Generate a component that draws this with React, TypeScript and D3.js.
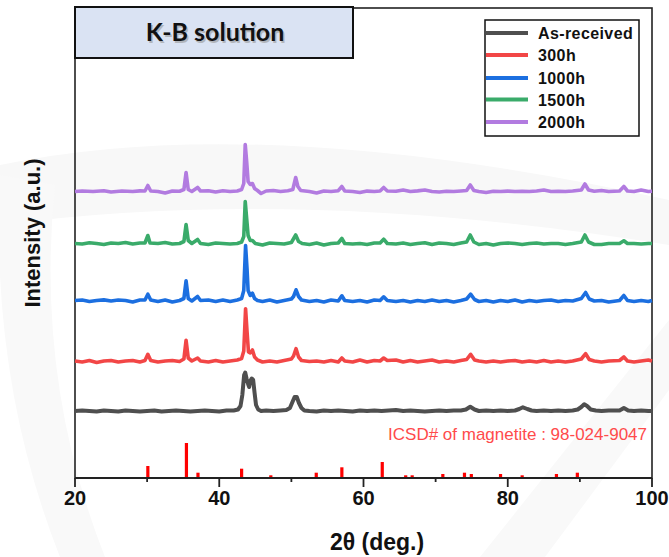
import React from "react";
import * as d3 from "d3";

const W = 669;
const H = 557;

const xTicksMajor = [20, 40, 60, 80, 100];
const xTicksMinor = [30, 50, 70, 90];

const seriesNames = ["As-received", "300h", "1000h", "1500h", "2000h"];
const seriesColors = ["#4f4f4f", "#f24646", "#1c6fe0", "#3aab6a", "#b27be0"];
const seriesOffsets = [67, 117, 177.5, 234.5, 286.5];

const asReceived: [number, number][] = [
  [20, 0], [21, 0.5], [22, 0], [23, -0.5], [24, 0.5], [25, 0], [26, -0.5], [27, 0.5], [28, 0], [29, -0.5],
  [30, 0], [31, 0.5], [32, -0.5], [33, 0], [34, 0.5], [35, 0], [36, -0.5], [37, 0], [38, 0.5], [39, 0],
  [40, -0.5], [41, 0.5], [42, 0.5], [42.6, 1.5], [42.95, 5], [43.2, 16], [43.45, 36], [43.6, 38.5],
  [43.8, 32], [44.0, 27], [44.15, 24], [44.3, 30], [44.5, 32.5], [44.7, 31], [44.9, 18], [45.1, 6],
  [45.4, 1.5], [45.8, 0], [46.5, 0.5], [47.5, 0], [48.5, 0.5], [49.3, 1], [49.8, 3], [50.15, 9],
  [50.45, 14], [50.75, 14], [51.05, 8], [51.4, 3], [51.8, 0.5], [52.5, 0], [53.5, -0.5], [54.5, 0.5],
  [55.5, 0], [56.5, 0.5], [57.5, 0], [58.5, -0.5], [59.5, 0.5], [60.5, 0], [61.5, 0.5], [62.5, 0],
  [63.5, 0.5], [64.5, 1], [65.5, 0], [66.5, 0.5], [67.5, 0], [68.5, -0.5], [69.5, 0], [70.5, 0.5],
  [71.5, 0], [72.5, 0.5], [73.5, 0.5], [74.2, 1.5], [74.8, 4.3], [75.4, 1.5], [76, 0], [77, 0.5],
  [78, 0], [79, 0.5], [80, 0], [81, 0.5], [81.6, 2], [82.1, 3.7], [82.7, 2], [83.3, 0.5], [84, 0],
  [85, 0.5], [86, 0], [87, 0.5], [88, 0], [89, 0.5], [89.7, 1.5], [90.2, 4], [90.6, 6.7], [91.0, 5],
  [91.5, 1.5], [92.2, 0.5], [93, 0], [94, 0.5], [95.5, 0.5], [96.1, 3], [96.7, 0.5], [97.5, 0],
  [98.5, 0.5], [99.5, 0], [100, 0],
];

const h300: [number, number][] = [
  [20, 0], [21, -1], [22, 0.5], [23, -1.5], [24, 0], [25, 0.5], [26, -1], [27, 0], [28, 0.5], [29, -1],
  [29.7, 0.5], [30.1, 6.7], [30.5, 0.5], [31.5, -1], [32.5, 0], [33.5, 0.5], [34.5, -0.5], [35.1, 2],
  [35.4, 20.7], [35.7, 3], [36.2, 0], [37, 3], [37.4, 0], [38.5, -1], [39.5, 0.5], [40.5, -1], [41.5, 0],
  [42.5, 1], [43.1, 2.5], [43.4, 10], [43.65, 52.3], [43.85, 30], [44.05, 9], [44.3, 8], [44.6, 11],
  [44.9, 4], [45.3, 1], [46, -1], [47, 0], [48, -1], [49, 0.5], [50, 2], [50.3, 5], [50.65, 12.3],
  [51, 4], [51.4, 0.5], [52.5, -0.5], [53.5, 0], [54.5, -1], [55.5, 0.5], [56.5, -1], [57, 3], [57.4, 0],
  [58.5, -1], [59.5, 1], [60.5, -1], [61.5, 0.5], [62.3, 0], [62.8, 3], [63.3, 0.5], [64.5, 1],
  [65.5, -1], [66.5, 0.5], [67.5, -1], [68.5, 0], [69.5, 1], [70.5, -1], [71.5, 0], [72.5, -1],
  [73.5, 0.5], [74.3, 1.5], [74.85, 6.7], [75.4, 1], [76, 0], [77, -1], [78, 0], [79, -1], [80, 0],
  [81, 0.5], [82, -1], [83, 0], [84, -1], [85, 0.5], [86, -1], [87, 0], [88, -1], [89, 0], [90.2, 2],
  [90.8, 7.3], [91.3, 1.5], [92, 0], [93, -1], [94, 0], [95.5, 0.5], [96.1, 4], [96.6, 0], [97.5, -1],
  [98.5, 0], [99.5, 1], [100, 0],
];

const h1000: [number, number][] = [
  [20, 0], [21, 0.5], [22, -1], [23, 0], [24, 0.6], [25, -0.5], [26, 0.5], [27, 0], [28, -1.5], [29, 0.5],
  [29.7, 0.5], [30.1, 6.3], [30.5, 0.5], [31.5, -1], [32.5, 0.5], [33.5, -1.5], [34.5, 0], [35.1, 2],
  [35.4, 19.7], [35.7, 2], [36.2, -0.5], [37, 4], [37.4, 0], [38.5, 0.5], [39.5, -1], [40.5, 0.5],
  [41.5, -1], [42.5, 0.5], [43.1, 2], [43.4, 10], [43.65, 55], [43.85, 32], [44.0, 10], [44.3, 5],
  [44.6, 7.3], [44.9, 2], [45.3, 0], [46, -1], [47, 0.5], [48, -1.5], [49, 0], [50, 1.5], [50.3, 4],
  [50.65, 10.7], [51, 4], [51.4, 0.5], [52.5, -1], [53.5, 0], [54.5, -1.5], [55.5, 0.5], [56.5, -0.5],
  [57, 4.7], [57.4, 0], [58.5, -1], [59.5, 0], [60.5, -1.5], [61.5, 0.5], [62.3, 0], [62.8, 3.7],
  [63.3, 0], [64.5, -1], [65.5, 0], [66.5, -1.5], [67.5, 0], [68.5, -1], [69.5, 0.5], [70.5, -1],
  [71.5, 0], [72.5, -1.5], [73.5, 0], [74.3, 1.5], [74.85, 6.3], [75.4, 1], [76, -1], [77, 0],
  [78, -1.5], [79, 0], [80, -1], [81, 0.5], [82, -1.5], [83, 0], [84, -1], [85, 0], [86, 0.5], [87, -1],
  [88, 0], [89, -0.5], [90.2, 2], [90.8, 8], [91.3, 1.5], [92, -0.5], [93, 0], [94, -1.5], [95.5, 0],
  [96.1, 5], [96.6, 0], [97.5, -1], [98.5, 0], [99.5, -1], [100, 0],
];

const h1500: [number, number][] = [
  [20, 0], [21, -0.5], [22, 0.8], [23, 0], [24, -1], [25, 0.5], [26, 0], [27, 1], [28, -0.5], [29, 0.5],
  [29.7, 0.5], [30.1, 8], [30.4, 0.5], [31.5, 0], [32.5, 1], [33.5, -0.5], [34.5, 0], [35.1, 2],
  [35.4, 19], [35.7, 3], [36.2, 0], [37, 4], [37.4, 0], [38.5, -1], [39.5, 0.5], [40.5, 0], [41.5, -0.5],
  [42.5, 0], [43.1, 1.5], [43.4, 7], [43.6, 42], [43.8, 25], [44.0, 8], [44.3, 3], [44.6, 3], [45, 0],
  [46, -1.5], [47, 0.5], [48, 0], [49, -0.5], [50, 1], [50.6, 8.5], [51, 2], [51.5, 0], [52.5, -1],
  [53.5, 0.5], [54.5, -1.5], [55.5, 0], [56.5, 0.5], [57, 5], [57.4, 0], [58.5, -0.5], [59.5, 0],
  [60.5, -1], [61.5, 0.5], [62.3, 0.5], [62.8, 4.3], [63.3, 0], [64.5, -0.5], [65.5, 0.5], [66.5, -1],
  [67.5, 0], [68.5, 0.8], [69.5, -1], [70.5, 0.5], [71.5, 0], [72.5, -1], [73.5, 0.5], [74.3, 1.5],
  [74.8, 8.5], [75.3, 1.5], [76, -1], [77, 0], [78, -1.5], [79, 0], [80, 0.5], [81, 0], [82, -1],
  [83, 0], [84, 0.5], [85, -0.5], [86, 0], [87, 0], [88, -1], [89, 0], [90.2, 1.5], [90.7, 8.5],
  [91.2, 1.5], [92, -1], [93, -1], [94, 0], [95.5, 0], [96.1, 2.7], [96.6, 0], [97.5, 0], [98.5, -0.5],
  [99.5, 0], [100, 0],
];

const h2000: [number, number][] = [
  [20, 0], [21, 0.5], [22.5, 0], [24, 0.8], [25, -0.5], [26.5, 0.5], [28, 0], [29, 0.6], [29.7, 0.5],
  [30.1, 6], [30.5, 0.5], [31.5, 0], [32.5, -1.5], [33.5, 0.5], [34.5, 0.3], [35.1, 2], [35.4, 19],
  [35.7, 2], [36.2, 0], [37.0, 4], [37.4, 0.5], [38.5, 0.8], [39.5, -0.5], [40.5, 0.8], [41.5, 0],
  [42.5, 0.5], [43.1, 2], [43.4, 8], [43.6, 47], [43.8, 30], [44.0, 10], [44.3, 7], [44.6, 8], [44.9, 3],
  [45.3, 1], [45.8, -2], [46.5, 0.5], [47.5, 1], [48.5, 0], [49.5, 0.8], [50.2, 2], [50.6, 14],
  [50.9, 5], [51.3, 1], [52.5, 0], [53.5, -1.5], [54.5, 0.5], [55.5, 0], [56.5, 0.8], [57.0, 5],
  [57.4, 0.5], [58.5, 0], [59.5, -1], [60.5, 0.4], [61.5, 0], [62.3, 0.5], [62.8, 4], [63.3, 0.5],
  [64.5, 0.2], [65.5, 1.5], [66.5, 0], [67.5, 0.6], [68.5, 1.5], [69.5, 0], [70.5, -0.5], [71.5, 0.3],
  [72.5, 0], [73.5, 0.5], [74.3, 1], [74.8, 6.5], [75.3, 1], [76, 0], [77, -1], [78, 0.3], [79, 0],
  [80, 0.4], [81, 0], [82, 0.2], [83, 0], [84, 0.5], [85, 1.5], [86, 0], [87, 0.3], [88, 0], [89, 0.5],
  [90.2, 1.5], [90.7, 7.5], [91.2, 1.5], [92, 0.2], [93, 1], [94, 0], [95.5, 0.5], [96.1, 5], [96.6, 0.5],
  [97.5, 0], [98.5, 1.5], [99.5, 0], [100, 0.3],
];

const seriesData = [asReceived, h300, h1000, h1500, h2000];

// ICSD 98-024-9047 magnetite reference sticks: [2theta, intensity]
const refPositions = [30.1, 35.45, 37.05, 43.1, 47.15, 53.45, 57.0, 62.6, 65.85, 66.75, 71.0, 74.0, 74.95, 79.0, 82.0, 86.75, 89.65];
const refIntensities = [12, 35, 5.3, 9.3, 2.7, 5.3, 10.7, 16, 2.7, 2.7, 4, 5.3, 4, 4, 2.7, 4, 5.3];

const margin = { left: 75, right: 652, top: 8, bottom: 478 };

export default function App() {
  const x = d3.scaleLinear().domain([20, 100]).range([margin.left, margin.right]);
  const y = d3.scaleLinear().domain([0, 470]).range([margin.bottom, margin.top]);

  const line = (off: number) =>
    d3
      .line<[number, number]>()
      .x((d) => x(d[0]))
      .y((d) => y(d[1] + off));

  const legendRows = [33, 55, 78, 99.5, 122];

  return (
    <svg
      width={W}
      height={H}
      style={{ position: "absolute", left: 0, top: 0, background: "#fff" }}
      fontFamily="'Liberation Sans', Arial, sans-serif"
    >
      {/* faint watermark */}
      <path d="M0,165 Q260,110 669,200 L669,245 Q300,185 0,225 Z" fill="#f8f8f8" />
      <path d="M0,175 Q-10,380 60,557 L105,557 Q35,380 55,185 Z" fill="#f9f9f9" />
      <path d="M480,557 L669,320 L669,390 L545,557 Z" fill="#f9f9f9" />

      {/* frame */}
      <rect
        x={margin.left}
        y={margin.top}
        width={margin.right - margin.left}
        height={margin.bottom - margin.top}
        fill="none"
        stroke="#222"
        strokeWidth={1.6}
      />

      {/* series */}
      {seriesData.map((data, i) => (
        <path
          key={seriesNames[i]}
          d={line(seriesOffsets[i])(data) || ""}
          fill="none"
          stroke={seriesColors[i]}
          strokeWidth={i === 0 ? 4 : 3.6}
          strokeLinejoin="round"
        />
      ))}

      {/* reference sticks */}
      {refPositions.map((p, i) => (
        <rect
          key={i}
          x={x(p) - 1.6}
          y={y(refIntensities[i])}
          width={3.2}
          height={y(0) - y(refIntensities[i])}
          fill="#ff0000"
        />
      ))}
      <text x={647} y={440} textAnchor="end" fontSize={17} fill="#ff4b4b">
        ICSD# of magnetite : 98-024-9047
      </text>

      {/* x axis */}
      <line x1={margin.left} x2={margin.right} y1={y(0)} y2={y(0)} stroke="#222" strokeWidth={1.8} />
      {xTicksMajor.map((t) => (
        <g key={t}>
          <line x1={x(t)} x2={x(t)} y1={y(0)} y2={y(0) + 9} stroke="#222" strokeWidth={1.8} />
          <text x={x(t)} y={505} textAnchor="middle" fontSize={20} fontWeight="bold" fill="#111">
            {t}
          </text>
        </g>
      ))}
      {xTicksMinor.map((t) => (
        <line key={t} x1={x(t)} x2={x(t)} y1={y(0)} y2={y(0) + 4} stroke="#222" strokeWidth={1.8} />
      ))}
      <text x={377} y={550} textAnchor="middle" fontSize={23} fontWeight="bold" fill="#111">
        2θ  (deg.)
      </text>
      <text
        transform="translate(40,233) rotate(-90)"
        textAnchor="middle"
        fontSize={22}
        fontWeight="bold"
        fill="#111"
      >
        Intensity (a.u.)
      </text>

      {/* title box */}
      <rect x={75} y={7} width={278} height={51} fill="#dae3f3" stroke="#111" strokeWidth={2} />
      <text x={216.5} y={42.5} textAnchor="middle" fontSize={25} fontWeight="bold" fontFamily="Lato, 'Open Sans', sans-serif" fill="#999" opacity={0.6}>
        K-B solution
      </text>
      <text x={215} y={41} textAnchor="middle" fontSize={25} fontWeight="bold" fontFamily="Lato, 'Open Sans', sans-serif" fill="#111">
        K-B solution
      </text>

      {/* legend */}
      <rect x={485} y={20} width={154} height={116} fill="#fff" stroke="#111" strokeWidth={1.5} />
      {seriesNames.map((n, i) => (
        <g key={n}>
          <line x1={486} x2={528} y1={legendRows[i]} y2={legendRows[i]} stroke={seriesColors[i]} strokeWidth={4} />
          <text x={538} y={legendRows[i] + 6} fontSize={16} fontWeight="bold" fill="#111" letterSpacing={0.4}>
            {n}
          </text>
        </g>
      ))}
    </svg>
  );
}
